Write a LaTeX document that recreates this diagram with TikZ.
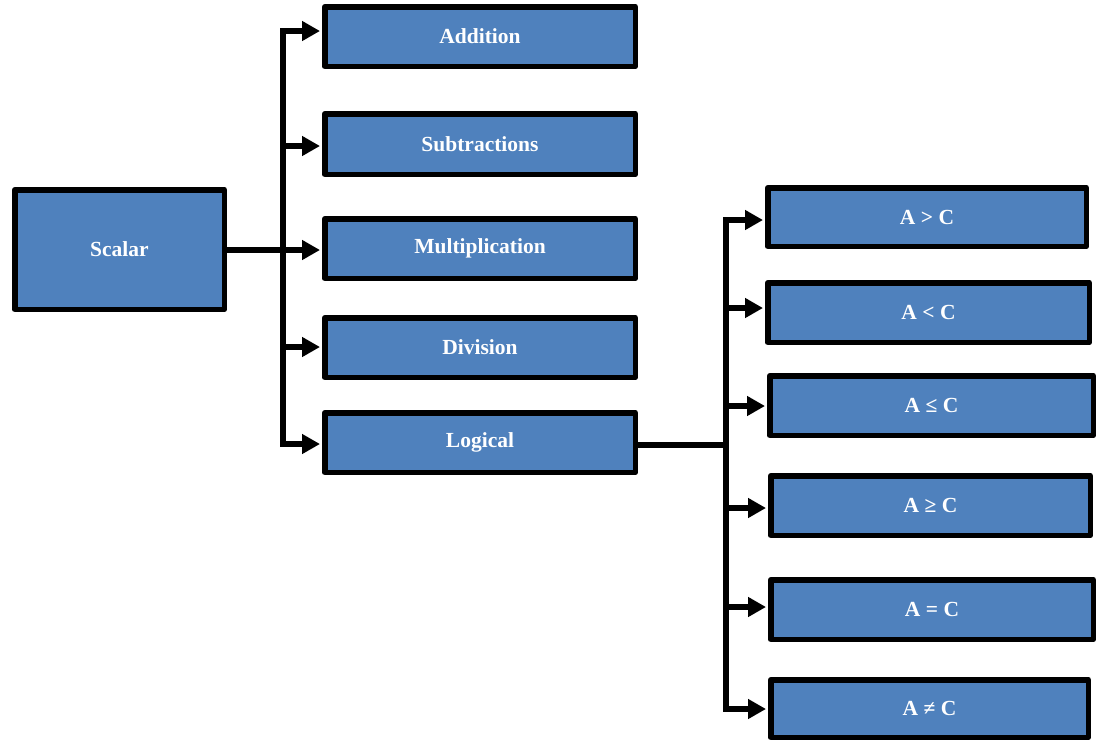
\documentclass[tikz,border=0pt]{standalone}
\usepackage{fontspec}
\setmainfont{Liberation Serif}
\usetikzlibrary{arrows.meta}
\definecolor{boxblue}{RGB}{79,129,189}
\begin{document}
\begin{tikzpicture}[x=1pt,y=-1pt,
  opbox/.style={draw=black, fill=boxblue, line width=5.5pt, line join=round,
    inner sep=0pt, text=white, font=\fontsize{21.5}{25}\selectfont\bfseries},
  link/.style={line width=5.5pt, line join=miter},
  trunk/.style={link, line cap=rect},
  arr/.style={link, -{Triangle[length=18pt,width=19pt]}, shorten >=2pt}]
\useasboundingbox (0,0) rectangle (1101,740);

% main box
\node[opbox, minimum width=209.5pt, minimum height=119.5pt] (scalar) at (119.5,249.5) {Scalar};

% scalar operations
\node[opbox, minimum width=310.5pt, minimum height=59.5pt] (add) at (480,36.5) {Addition};
\node[opbox, minimum width=310.5pt, minimum height=60.5pt] (sub) at (480,144) {Subtractions};
\node[opbox, minimum width=310.5pt, minimum height=59.5pt] (mul) at (480,248.5) {Multiplication};
\node[opbox, minimum width=310.5pt, minimum height=59.5pt] (div) at (480,347.5) {Division};
\node[opbox, minimum width=310.5pt, minimum height=59.5pt] (log) at (480,442.5) {Logical};

% logical comparisons
\node[opbox, minimum width=318.5pt, minimum height=58.5pt] (gt) at (927,217) {A > C};
\node[opbox, minimum width=321.5pt, minimum height=59.5pt] (lt) at (928.5,312.5) {A < C};
\node[opbox, minimum width=323.5pt, minimum height=59.5pt] (le) at (931.5,405.5) {A ≤ C};
\node[opbox, minimum width=319.5pt, minimum height=59.5pt] (ge) at (930.5,505.5) {A ≥ C};
\node[opbox, minimum width=322.5pt, minimum height=59.5pt] (eq) at (932,609.5) {A = C};
\node[opbox, minimum width=317.5pt, minimum height=57.5pt] (ne) at (929.5,708.5) {A ≠ C};

% left trunk
\coordinate (l1) at (283,31);
\coordinate (l2) at (283,146);
\coordinate (l3) at (283,250);
\coordinate (l4) at (283,347);
\coordinate (l5) at (283,444);
\draw[trunk] (l1) -- (l5);
\draw[arr] (scalar.east |- l3) -- (l3 -| mul.west);
\draw[arr] (l1) -- (l1 -| add.west);
\draw[arr] (l2) -- (l2 -| sub.west);
\draw[arr] (l4) -- (l4 -| div.west);
\draw[arr] (l5) -- (l5 -| log.west);

% right trunk
\coordinate (r1) at (726,220);
\coordinate (r2) at (726,308);
\coordinate (r3) at (726,406);
\coordinate (r4) at (726,508);
\coordinate (r5) at (726,607);
\coordinate (r6) at (726,709);
\coordinate (rj) at (726,445);
\draw[trunk] (r1) -- (r6);
\draw[link] (log.east |- rj) -- (rj);
\draw[arr] (r1) -- (r1 -| gt.west);
\draw[arr] (r2) -- (r2 -| lt.west);
\draw[arr] (r3) -- (r3 -| le.west);
\draw[arr] (r4) -- (r4 -| ge.west);
\draw[arr] (r5) -- (r5 -| eq.west);
\draw[arr] (r6) -- (r6 -| ne.west);
\end{tikzpicture}
\end{document}
